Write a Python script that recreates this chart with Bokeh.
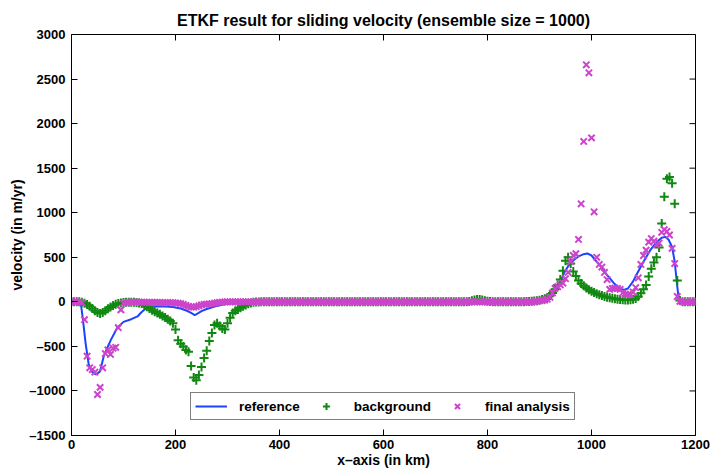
from bokeh.plotting import figure
from bokeh.models import FixedTicker, Range1d, Legend, LegendItem
from bokeh.embed import file_html
from bokeh.resources import INLINE

# ---------------- data ----------------
x_grid = list(range(0, 1205, 5))  # sampling grid in km (241 points)

background = [
    0, 0, 0, 0, -5, -15, -30, -50, -75, -100, -120, -130, -120, -100, -78, -58, -42, -28, -18, -12,
    -8, -6, -5, -5, -6, -8, -12, -20, -35, -55, -75, -95, -110, -125, -140, -160, -175, -195, -215, -240,
    -310, -430, -470, -500, -540, -560, -720, -850, -880, -820, -730, -630, -550, -440, -350, -260, -240, -270, -300, -310,
    -240, -180, -125, -100, -85, -65, -50, -35, -22, -12, -6, -3, -1, 0, 0, 0, 0, 0, 0, 0,
    0, 0, 0, 0, 0, 0, 0, 0, 0, 0, 0, 0, 0, 0, 0, 0, 0, 0, 0, 0,
    0, 0, 0, 0, 0, 0, 0, 0, 0, 0, 0, 0, 0, 0, 0, 0, 0, 0, 0, 0,
    0, 0, 0, 0, 0, 0, 0, 0, 0, 0, 0, 0, 0, 0, 0, 0, 0, 0, 0, 0,
    0, 0, 0, 0, 0, 0, 0, 0, 0, 0, 0, 0, 0, 5, 12, 20, 25, 25, 20, 12,
    6, 3, 2, 2, 2, 2, 2, 2, 2, 2, 2, 2, 2, 2, 2, 3, 4, 6, 9, 13,
    18, 25, 35, 50, 70, 100, 140, 190, 250, 350, 460, 500, 430, 340, 290, 240, 205, 180, 155, 135,
    118, 105, 92, 80, 70, 60, 52, 45, 40, 35, 30, 26, 22, 20, 20, 22, 28, 38, 60, 95,
    140, 190, 285, 370, 440, 500, 610, 880, 1180, 1380, 1400, 1330, 1100, 240, 15, 2, 0, 0, 0, 0,
    0,
]

analysis = [
    0, 0, 0, 0, -10, -200, -610, -740, -760, -790, -1040, -960, -740, -580, -540, -590, -520, -510, -290, -90,
    -15, -8, -5, -4, -3, -3, -3, -4, -4, -5, -5, -5, -6, -6, -7, -8, -8, -9, -10, -10,
    -12, -15, -20, -30, -40, -50, -58, -60, -55, -45, -35, -28, -25, -22, -20, -15, -10, -5, -3, -1,
    0, 0, 0, 0, 0, 0, 0, 0, 0, 0, 0, 0, 0, 0, 0, 0, 0, 0, 0, 0,
    0, 0, 0, 0, 0, 0, 0, 0, 0, 0, 0, 0, 0, 0, 0, 0, 0, 0, 0, 0,
    0, 0, 0, 0, 0, 0, 0, 0, 0, 0, 0, 0, 0, 0, 0, 0, 0, 0, 0, 0,
    0, 0, 0, 0, 0, 0, 0, 0, 0, 0, 0, 0, 0, 0, 0, 0, 0, 0, 0, 0,
    0, 0, 0, 0, 0, 0, 0, 0, 0, 0, 0, 0, 0, 0, 0, 0, 0, 0, 0, 0,
    0, 0, 0, 0, 0, 0, 0, 0, 0, 0, 0, 0, 0, 0, 0, 0, 0, 0, 2, 5,
    10, 15, 20, 30, 50, 100, 150, 170, 190, 210, 260, 330, 450, 520, 540, 700, 1100, 1800, 2660, 2570,
    1840, 1010, 500, 420, 390, 330, 250, 140, 150, 155, 150, 140, 100, 85, 80, 80, 110, 160, 270, 420,
    520, 580, 670, 710, 680, 640, 660, 780, 810, 790, 750, 600, 430, 60, 5, 0, 0, 0, 0, 0,
    0,
]

ref_x = [0, 10, 18, 22, 27, 33, 40, 47, 55, 62, 70, 76, 88, 100, 115, 127, 134, 140, 146, 152,
         165, 180, 195, 210, 222, 230, 237, 243, 250, 260, 275, 290, 305, 320, 340, 500, 700, 880,
         900, 910, 920, 930, 940, 947, 955, 966, 975, 985, 992, 1000, 1010, 1020, 1030, 1043, 1052,
         1062, 1070, 1080, 1088, 1100, 1113, 1125, 1135, 1142, 1148, 1155, 1160, 1165, 1168, 1172, 1200]
ref_v = [0, 0, -20, -200, -460, -700, -790, -815, -780, -610, -500, -424, -290, -225, -195, -164, -120, -89, -65, -52,
         -50, -52, -58, -75, -100, -125, -148, -130, -105, -80, -52, -33, -15, -5, 0, 0, 0, 5,
         15, 25, 45, 110, 220, 320, 400, 470, 510, 535, 543, 520, 450, 380, 300, 209, 160,
         134, 150, 230, 320, 450, 580, 670, 720, 729, 700, 617, 450, 171, 20, 0, 0]

x_ticks = [0, 200, 400, 600, 800, 1000, 1200]
y_ticks = [-1500, -1000, -500, 0, 500, 1000, 1500, 2000, 2500, 3000]
y_tick_labels = ["\u20131500", "\u20131000", "\u2013500", "0", "500", "1000", "1500", "2000", "2500", "3000"]

# ---------------- styling ----------------
FONT = "Liberation Sans"
BLUE = "#1a44ff"
GREEN = "#118811"
MAGENTA = "#cc44cc"

p = figure(width=714, height=470, output_backend="svg", toolbar_location=None,
           x_range=Range1d(0, 1200), y_range=Range1d(-1500, 3000),
           min_border_left=71, min_border_right=19, min_border_top=34, min_border_bottom=33)
p.title.text = "ETKF result for sliding velocity (ensemble size = 1000)"
p.title.align = "center"
p.title.vertical_align = "middle"
p.title.text_font = FONT
p.title.text_font_size = "16px"
p.title.text_font_style = "bold"
p.title.text_color = "black"
p.grid.visible = False
p.outline_line_color = "black"
p.outline_line_width = 1
p.background_fill_color = "white"
p.border_fill_color = "white"

xa = p.xaxis[0]
xa.ticker = FixedTicker(ticks=x_ticks)
xa.axis_label = "x\u2013axis (in km)"
ya = p.yaxis[0]
ya.ticker = FixedTicker(ticks=y_ticks)
ya.major_label_overrides = {t: l for t, l in zip(y_ticks, y_tick_labels)}
ya.axis_label = "velocity (in m/yr)"

for ax in (xa, ya):
    ax.major_tick_in = 6
    ax.major_tick_out = 0
    ax.minor_tick_line_color = None
    ax.axis_line_color = "black"
    ax.major_tick_line_color = "black"
    ax.major_label_text_font = FONT
    ax.major_label_text_font_size = "13px"
    ax.major_label_text_font_style = "bold"
    ax.major_label_text_color = "black"
    ax.axis_label_text_font = FONT
    ax.axis_label_text_font_size = "14px"
    ax.axis_label_text_font_style = "bold"
    ax.axis_label_text_color = "black"
xa.major_label_standoff = 4
xa.axis_label_standoff = 0
ya.major_label_standoff = 6
ya.axis_label_standoff = 1

# inward ticks on the top and right edges of the box
p.ray(x=x_ticks, y=[3000] * len(x_ticks), length=6, length_units="screen",
      angle=-90, angle_units="deg", line_color="black", line_width=1)
p.ray(x=[1200] * len(y_ticks), y=y_ticks, length=6, length_units="screen",
      angle=180, angle_units="deg", line_color="black", line_width=1)

r_ref = p.line(ref_x, ref_v, color=BLUE, line_width=2)
r_bg = p.scatter(x_grid, background, marker="cross", size=9, line_width=2, color=GREEN)
r_an = p.scatter(x_grid, analysis, marker="x", size=9, line_width=2, color=MAGENTA)

legend = Legend(items=[LegendItem(label="reference", renderers=[r_ref]),
                       LegendItem(label="background", renderers=[r_bg]),
                       LegendItem(label="final analysis", renderers=[r_an])],
                orientation="horizontal", location=(119, 15),
                label_text_font=FONT, label_text_font_size="13.5px", label_text_font_style="bold",
                label_text_color="black", glyph_width=32, glyph_height=18, label_height=18,
                label_standoff=12, spacing=10, padding=4, margin=0,
                border_line_color="black", border_line_width=1, background_fill_alpha=1)
p.add_layout(legend, "center")

open("out.html", "w").write(file_html(p, INLINE))
